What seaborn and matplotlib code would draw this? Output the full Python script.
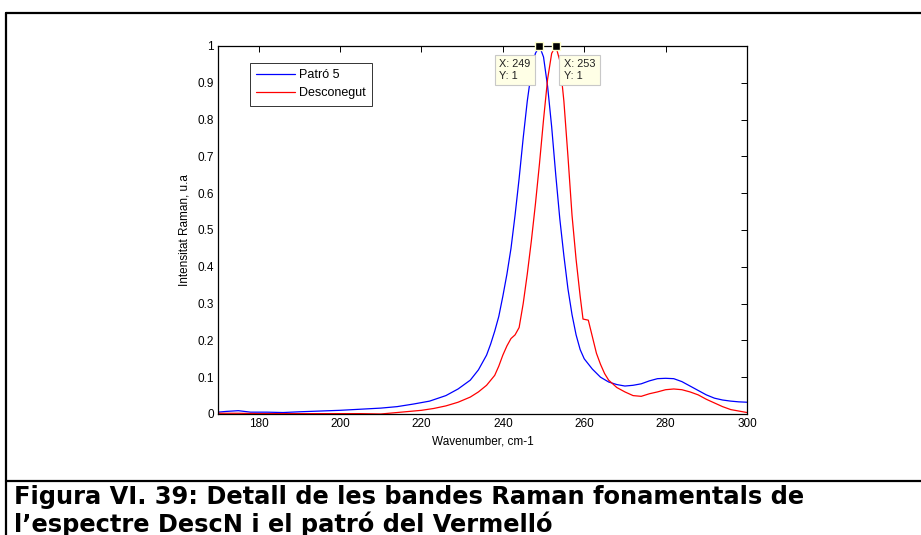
import numpy as np
import pandas as pd
import matplotlib
matplotlib.use("Agg")
import matplotlib.pyplot as plt
import seaborn as sns
from matplotlib.lines import Line2D

# ---- data -------------------------------------------------------------
patro_x = [170, 172, 175, 178, 182, 186, 190, 195, 200, 205, 210, 214, 218, 222,
           226, 229, 232, 234, 236, 237, 238, 239, 240, 241, 242, 243, 244, 245,
           246, 247, 248, 249, 250, 251, 252, 253, 254, 255, 256, 257, 258, 259,
           260, 262, 264, 266, 268, 270, 272, 274, 276, 278, 280, 282, 284, 286,
           288, 290, 292, 294, 296, 298, 300]
patro_y = [0.005, 0.007, 0.009, 0.005, 0.005, 0.004, 0.006, 0.008, 0.010, 0.013,
           0.016, 0.020, 0.027, 0.035, 0.050, 0.068, 0.092, 0.120, 0.160, 0.190,
           0.225, 0.265, 0.320, 0.380, 0.450, 0.540, 0.640, 0.750, 0.850, 0.930,
           0.980, 1.000, 0.970, 0.890, 0.780, 0.650, 0.530, 0.430, 0.340, 0.270,
           0.215, 0.175, 0.150, 0.122, 0.100, 0.087, 0.080, 0.076, 0.078, 0.082,
           0.090, 0.096, 0.097, 0.096, 0.088, 0.076, 0.064, 0.052, 0.043, 0.038,
           0.035, 0.033, 0.032]

desc_x = [170, 175, 180, 185, 190, 195, 200, 205, 210, 213, 216, 220, 223, 226,
          229, 232, 234, 236, 238, 239, 240, 241, 242, 243, 244, 245, 246, 247,
          248, 249, 250, 251, 252, 253, 254, 255, 256, 257, 258, 259, 259.7, 261,
          262, 263, 264, 265, 266, 268, 270, 272, 274, 276, 278, 280, 282, 284,
          286, 288, 290, 292, 294, 296, 298, 300]
desc_y = [0.002, 0.002, 0.001, 0.001, 0.001, 0.001, 0.001, 0.001, 0.000, 0.003,
          0.006, 0.010, 0.015, 0.022, 0.032, 0.046, 0.060, 0.078, 0.105, 0.130,
          0.160, 0.185, 0.205, 0.215, 0.235, 0.300, 0.380, 0.470, 0.570, 0.680,
          0.800, 0.910, 0.980, 1.000, 0.960, 0.850, 0.700, 0.540, 0.420, 0.320,
          0.258, 0.255, 0.210, 0.165, 0.135, 0.110, 0.092, 0.072, 0.060, 0.050,
          0.048, 0.055, 0.060, 0.066, 0.068, 0.066, 0.060, 0.052, 0.040, 0.030,
          0.020, 0.012, 0.008, 0.004]

series_names = ["Patró 5", "Desconegut"]
series_colors = ["#0000ff", "#ff0000"]
datatip_x = [249, 253]
datatip_y = [1, 1]
x_ticks = [180, 200, 220, 240, 260, 280, 300]
y_ticks = [0, 0.1, 0.2, 0.3, 0.4, 0.5, 0.6, 0.7, 0.8, 0.9, 1]
y_tick_labels = ["0", "0.1", "0.2", "0.3", "0.4", "0.5", "0.6", "0.7", "0.8", "0.9", "1"]
caption = ["Figura VI. 39: Detall de les bandes Raman fonamentals de",
           "l\u2019espectre DescN i el patró del Vermelló"]

df = pd.concat([
    pd.DataFrame({"x": patro_x, "y": patro_y, "serie": series_names[0]}),
    pd.DataFrame({"x": desc_x, "y": desc_y, "serie": series_names[1]}),
], ignore_index=True)

# ---- figure -----------------------------------------------------------
sns.set_style("white")
plt.rcParams["font.family"] = ["Liberation Sans", "DejaVu Sans"]
plt.rcParams["text.color"] = "black"
plt.rcParams["axes.labelcolor"] = "black"

W, H = 921, 535
fig = plt.figure(figsize=(W / 100, H / 100), dpi=100)

# outer frame (table-like border)
fl = 6 / W
ft = 1 - 13 / H
fs = 1 - 481 / H
fig.add_artist(Line2D([fl, 1.0], [ft, ft], transform=fig.transFigure, color="black", lw=1.6))
fig.add_artist(Line2D([fl, fl], [0, ft], transform=fig.transFigure, color="black", lw=1.6))
fig.add_artist(Line2D([fl, 1.0], [fs, fs], transform=fig.transFigure, color="black", lw=1.6))

ax = fig.add_axes([218 / W, 1 - 414 / H, (747 - 218) / W, (414 - 46) / H])
sns.lineplot(data=df, x="x", y="y", hue="serie", palette=series_colors,
             hue_order=series_names, ax=ax, lw=0.9, sort=False, estimator=None)

FS = 8.5
ax.set_xlim(170, 300)
ax.set_ylim(0, 1)
ax.set_xticks(x_ticks)
ax.set_yticks(y_ticks)
ax.set_yticklabels(y_tick_labels)
ax.tick_params(direction="in", length=4, width=0.7, labelsize=FS,
               top=True, right=True, colors="black", pad=3)
for s in ax.spines.values():
    s.set_linewidth(0.9)
    s.set_color("black")
ax.set_xlabel("Wavenumber, cm-1", fontsize=FS, labelpad=4, color="black")
ax.set_ylabel("Intensitat Raman, u.a", fontsize=FS, labelpad=5, color="black")

leg = ax.legend(loc="upper left", bbox_to_anchor=(0.0605, 0.954), borderaxespad=0,
                fontsize=9, frameon=True, fancybox=False, edgecolor="black",
                handlelength=3.1, handletextpad=0.3, borderpad=0.5,
                labelspacing=0.5, title=None)
leg.get_frame().set_linewidth(0.7)
for lh in leg.get_lines():
    lh.set_linewidth(0.9)

# data tips
ax.plot(datatip_x, datatip_y, "s", ms=6, mfc="black", mec="#ffffcc", mew=1,
        clip_on=False, zorder=6, ls="none")
tip_offsets = [(-9, -13, "right"), (8, -13, "left")]
for (tx, ty), (dx, dy, ha) in zip(zip(datatip_x, datatip_y), tip_offsets):
    ax.annotate(f"X: {tx}\nY: {ty}", xy=(tx, ty), xytext=(dx, dy),
                textcoords="offset pixels", ha=ha, va="top", fontsize=7.8,
                multialignment="left", linespacing=1.2, zorder=7, color="#202020",
                bbox=dict(boxstyle="square,pad=0.4", fc="#ffffe6", ec="#c8c8c8", lw=0.8))

# caption
for i, line in enumerate(caption):
    fig.text(14 / W, 1 - (497 + 27 * i) / H, line, fontsize=17.4, fontweight="bold",
             family="DejaVu Sans", va="center", ha="left", color="black")

fig.savefig("out.png", dpi=100)
